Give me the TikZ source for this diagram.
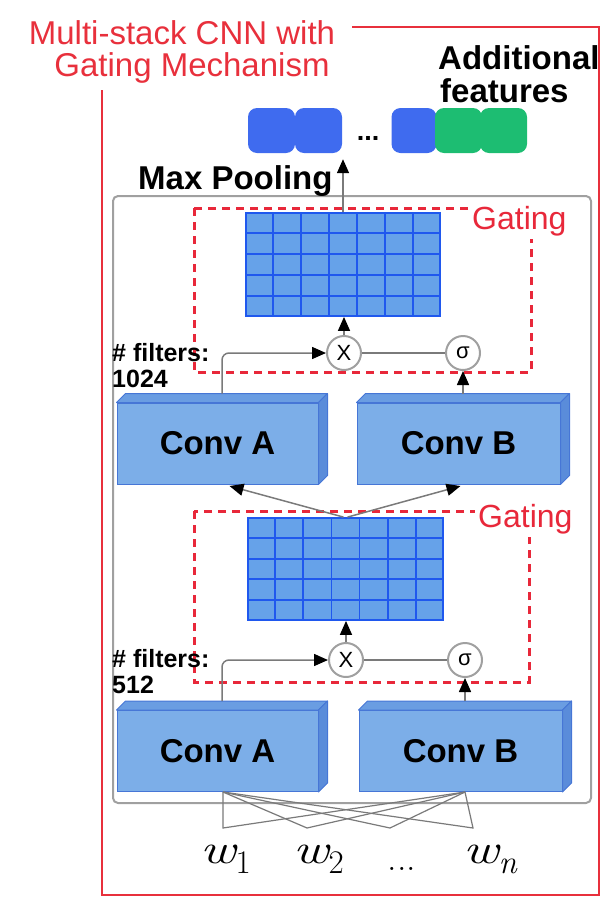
\documentclass[tikz,border=0pt]{standalone}
\usepackage{fontspec}
\usepackage{graphicx}
\newfontfamily\arial{Liberation Sans}
\usetikzlibrary{arrows.meta,calc}

\definecolor{framered}{HTML}{E8303C}
\definecolor{gatered}{HTML}{E8283A}
\definecolor{wiregray}{HTML}{7A7A7A}
\definecolor{boxgray}{HTML}{A0A0A0}
\definecolor{featblue}{HTML}{3F6BEF}
\definecolor{featgreen}{HTML}{1DBD72}
\definecolor{cellfill}{HTML}{66A2E9}
\definecolor{cellline}{HTML}{1F58EE}
\definecolor{convfront}{HTML}{7CAEE8}
\definecolor{convtop}{HTML}{6A9DE2}
\definecolor{convside}{HTML}{5A8CDA}
\definecolor{convedge}{HTML}{4676D6}

\newcommand{\fs}[1]{\fontsize{#1}{#1}\selectfont}
\newcommand{\wsym}{\scalebox{1.3}[1]{\itshape w}}

\begin{document}
\begin{tikzpicture}[x=1pt,y=-1pt,
  feat/.style={rounded corners=9pt, minimum width=47pt, minimum height=45pt, inner sep=0pt},
  featb/.style={feat, fill=featblue},
  featg/.style={feat, fill=featgreen},
  cellgrid/.style={fill=cellfill, draw=cellline, line width=1.8pt, inner sep=0pt},
  conv/.style={fill=convfront, draw=convedge, line width=1pt, minimum height=81pt,
    inner sep=0pt, font=\arial\bfseries\fs{33}},
  opcirc/.style={circle, draw=boxgray, fill=white, line width=2pt, minimum size=34pt,
    inner sep=0pt, font=\arial\fs{22}},
  wire/.style={draw=wiregray, line width=1.5pt},
  arr/.style={wire, -{Triangle[length=14pt,width=12pt,color=black]}},
  gatebox/.style={draw=gatered, line width=3pt, dash pattern=on 8pt off 6pt},
  gatelabel/.style={text=gatered, fill=white, font=\arial\fs{32}, inner sep=3pt, anchor=base west},
  blabel/.style={font=\arial\bfseries\fs{33}, inner sep=0pt, anchor=base west},
  flabel/.style={font=\arial\bfseries\fs{25}, inner sep=0pt, anchor=base west},
  wlabel/.style={font=\fs{42}, inner sep=0pt, anchor=base west},
]
\useasboundingbox (0,0) rectangle (610,900);

% outer red frame and its title
\draw[framered, line width=2.5pt] (352,27) -- (599,27) -- (599,895) -- (102,895) -- (102,90);
\node[text=framered, font=\arial\fs{33}, inner sep=0pt, anchor=base] (title1) at (182,44) {Multi-stack CNN with};
\node[text=framered, font=\arial\fs{33}, inner sep=0pt, anchor=base] (title2) at (192,76) {Gating Mechanism};

% stacked convolution block
\node[draw=boxgray, line width=2pt, rounded corners=5pt, minimum width=478pt, minimum height=607pt,
  inner sep=0pt] (stack) at (352,499.5) {};

% output feature vector
\node[featb] (f1) at (271.5,130.5) {};
\node[featb] (f2) at (318.5,130.5) {};
\node[font=\arial\bfseries\fs{27}, inner sep=0pt, anchor=base] (fdots) at (368,140) {...};
\node[featb, minimum width=45pt] (f3) at (414,130.5) {};
\node[featg] (f4) at (458.5,130.5) {};
\node[featg] (f5) at (503.5,130.5) {};
\node[blabel] (add1) at (438,69) {Additional};
\node[blabel] (add2) at (440,102) {features};
\node[blabel] (maxpool) at (138,189) {Max Pooling};

% upper gating unit
\draw[gatebox] (194,208) rectangle (531,372);
\node[gatelabel] (gate1) at (469,229) {Gating};
\node[cellgrid, minimum width=194pt, minimum height=103pt] (g1) at (343,264.5) {};
\foreach \i in {1,...,6}
  \draw[cellline, line width=1.8pt] ($(g1.north west)!\i/7!(g1.north east)$) -- ($(g1.south west)!\i/7!(g1.south east)$);
\foreach \j in {1,...,4}
  \draw[cellline, line width=1.8pt] ($(g1.north west)!\j/5!(g1.south west)$) -- ($(g1.north east)!\j/5!(g1.south east)$);
\node[opcirc] (x1) at (344,353) {X};
\node[opcirc] (s1) at (463,353) {σ};
\node[flabel] (nf1) at (112,361) {\# filters:};
\node[flabel] (nf1b) at (112,387) {1024};

% upper convolutions
\node[conv, minimum width=201pt] (ca1) at (217.5,443.5) {Conv A};
\node[conv, minimum width=203pt] (cb1) at (458.5,443.5) {Conv B};

% lower gating unit
\draw[gatebox] (194,511) rectangle (529,682);
\node[gatelabel] (gate2) at (475,527) {Gating};
\node[cellgrid, minimum width=195pt, minimum height=102pt] (g2) at (345.5,569) {};
\foreach \i in {1,...,6}
  \draw[cellline, line width=1.8pt] ($(g2.north west)!\i/7!(g2.north east)$) -- ($(g2.south west)!\i/7!(g2.south east)$);
\foreach \j in {1,...,4}
  \draw[cellline, line width=1.8pt] ($(g2.north west)!\j/5!(g2.south west)$) -- ($(g2.north east)!\j/5!(g2.south east)$);
\node[opcirc] (x2) at (346,660) {X};
\node[opcirc] (s2) at (465,660) {σ};
\node[flabel] (nf2) at (112,667) {\# filters:};
\node[flabel] (nf2b) at (112,693) {512};

% lower convolutions
\node[conv, minimum width=201pt] (ca2) at (217.5,751) {Conv A};
\node[conv, minimum width=203pt] (cb2) at (460.5,751) {Conv B};

% depth faces of the convolution blocks
\foreach \c in {ca1,cb1,ca2,cb2} {
  \filldraw[fill=convtop, draw=convedge, line width=1pt, line join=round]
    (\c.north west) -- ++(9,-9) -- ([shift={(9,-9)}]\c.north east) -- (\c.north east) -- cycle;
  \filldraw[fill=convside, draw=convedge, line width=1pt, line join=round]
    (\c.north east) -- ++(9,-9) -- ([shift={(9,-9)}]\c.south east) -- (\c.south east) -- cycle;
}

% connectors, upper unit
\draw[arr, rounded corners=7pt] ([shift={(4.5,-9)}]ca1.north) |- (x1.west);
\draw[arr] ([shift={(4.5,-9)}]cb1.north) -- (s1.south);
\draw[wire] (x1.east) -- (s1.west);
\draw[arr] (x1.north) -- (x1.north |- g1.south);
\draw[arr, shorten >=6pt] (g1.north) -- (g1.north |- f2.south);

% connectors, lower unit
\draw[arr, rounded corners=7pt] ([shift={(4.5,-9)}]ca2.north) |- (x2.west);
\draw[arr] ([shift={(4.5,-9)}]cb2.north) -- (s2.south);
\draw[wire] (x2.east) -- (s2.west);
\draw[arr] (x2.north) -- (x2.north |- g2.south);
\draw[arr] ([xshift=-2pt]g2.north) -- ($(ca1.south)+(12,1.5)$);
\draw[arr] ([xshift=2pt]g2.north) -- ($(cb1.south)+(2,1.5)$);

% input words
\coordinate (wa) at ([xshift=5.5pt]ca2.south);
\coordinate (wb) at ([xshift=4.5pt]cb2.south);
\coordinate (p1) at (223,828);
\coordinate (p2) at (307,828);
\coordinate (p3) at (390,828);
\coordinate (p4) at (473,828);
\foreach \p in {p1,p2,p3,p4}
  \draw[wire, line width=1.2pt] (wa) -- (\p) -- (wb);
\node[wlabel] (w1) at (200,863) {\wsym\raisebox{-10pt}{\fs{33}1}};
\node[wlabel] (w2) at (293,863) {\wsym\raisebox{-10pt}{\fs{33}2}};
\node[wlabel, font=\fs{38}, anchor=base] (wdots) at (402,870) {...};
\node[wlabel] (wn) at (463,863) {\wsym\raisebox{-10pt}{\fs{33}\itshape n}};
\end{tikzpicture}
\end{document}
